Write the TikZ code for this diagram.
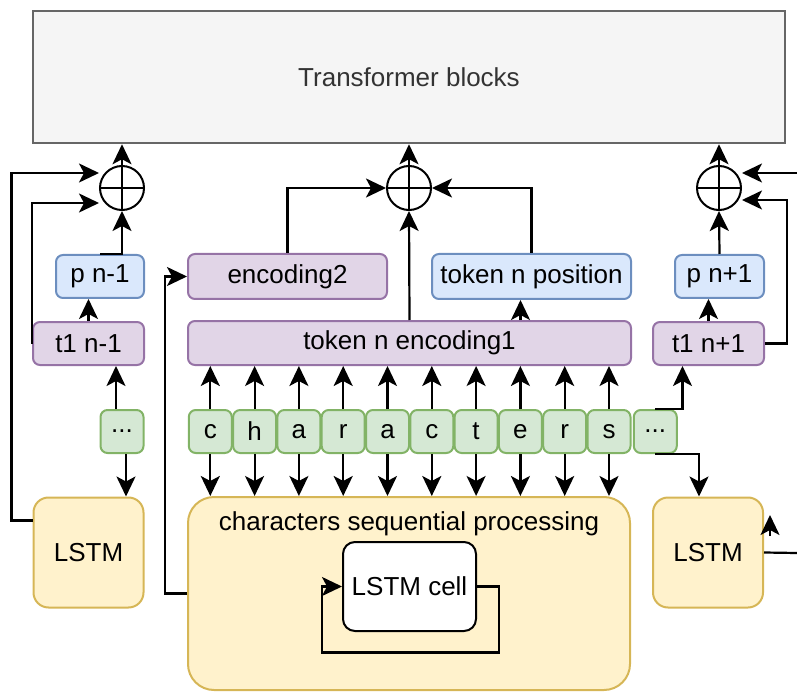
\documentclass[tikz,border=0pt]{standalone}
\usepackage{fontspec}
\setmainfont{Liberation Sans}
\usetikzlibrary{arrows.meta,positioning}
\definecolor{encfill}{HTML}{E1D5E7}
\definecolor{encdraw}{HTML}{9673A6}
\definecolor{posfill}{HTML}{DAE8FC}
\definecolor{posdraw}{HTML}{6C8EBF}
\definecolor{chrfill}{HTML}{D5E8D4}
\definecolor{chrdraw}{HTML}{82B366}
\definecolor{rnnfill}{HTML}{FFF2CC}
\definecolor{rnndraw}{HTML}{D6B656}
\definecolor{tffill}{HTML}{F5F5F5}
\definecolor{tfdraw}{HTML}{666666}

\begin{document}
\begin{tikzpicture}[
  x=1pt, y=-1pt,
  font=\fontsize{26pt}{30pt}\selectfont,
  box/.style={draw, line width=2pt, rounded corners=7pt, inner sep=0pt, minimum height=43pt},
  encbox/.style={box, fill=encfill, draw=encdraw},
  posbox/.style={box, fill=posfill, draw=posdraw},
  chr/.style={box, fill=chrfill, draw=chrdraw, minimum width=43pt},
  rnn/.style={box, fill=rnnfill, draw=rnndraw, rounded corners=15pt, minimum width=110pt, minimum height=110pt},
  sumnode/.style={draw, circle, line width=2pt, minimum size=44pt, inner sep=0pt,
    path picture={\draw[line width=2pt] (path picture bounding box.north) -- (path picture bounding box.south)
      (path picture bounding box.west) -- (path picture bounding box.east);}},
  tip/.tip={Stealth[length=20pt,width=19pt,inset=5pt]},
  arr/.style={-tip, line width=2.2pt},
  conn/.style={line width=2.2pt}
]
\useasboundingbox (0,0) rectangle (797,692);

\node[draw=tfdraw, fill=tffill, line width=2.5pt, minimum width=752pt, minimum height=132pt, inner sep=0pt, text=black!80] (tf) at (409,77) {Transformer blocks};

\node[sumnode] (sumL) at (122,188) {};
\node[sumnode] (sumM) at (409,188) {};
\node[sumnode] (sumR) at (719,188) {};

\node[posbox, minimum width=88pt] (pL) at (100,276.5) {p n-1};
\node[encbox, minimum width=111pt] (t1L) at (88.5,343.5) {t1 n-1};
\node[encbox, minimum width=199pt, minimum height=45pt] (enc2) at (287.5,276.5) {encoding2};
\node[posbox, minimum width=199pt, minimum height=45pt] (tokpos) at (531.5,276.5) {token n position};
\node[encbox, minimum width=443pt, minimum height=44pt] (enc1) at (409.5,343) {token n encoding1};
\node[posbox, minimum width=89pt] (pR) at (719.5,276.5) {p n+1};
\node[encbox, minimum width=111pt] (t1R) at (708.5,343.5) {t1 n+1};

\node[chr] (dotsL) at (122,431.5) {...};
\foreach \ch [count=\i] in {c,h,a,r,a,c,t,e,r,s}
  \node[chr] (c\i) at ({166+44.3*\i},431.5) {\ch};
\node[chr, right=1.3pt of c10] (c11) {...};

\node[rnn] (lstmL) at (88.5,552.5) {LSTM};
\node[rnn, minimum width=442pt, minimum height=193pt, rounded corners=26pt,
  label={[anchor=north, yshift=-12pt]north:characters sequential processing}] (seq) at (409,593.5) {};
\node[box, fill=white, rounded corners=12pt, minimum width=133pt, minimum height=89pt] (cell) at (409.5,586.5) {LSTM cell};
\node[rnn] (lstmR) at (708,552.5) {LSTM};

\coordinate (inR) at (797,173);
\coordinate (outR) at (797,553);
\coordinate (tipR) at (770,536);

\draw[arr] (sumL.north) -- (sumL.north |- tf.south);
\draw[arr] (sumM.north) -- (sumM.north |- tf.south);
\draw[arr] (sumR.north) -- (sumR.north |- tf.south);

\draw[arr] (pL.north) -| (sumL.south);
\draw[arr] (t1L.north) -- (t1L.north |- pL.south);
\draw[arr] (t1L.west) |- ([yshift=-15pt]sumL.west);
\draw[arr] ([yshift=32pt]lstmL.west) -- ++(-21,0) |- ([yshift=15pt]sumL.west);
\draw[arr] ([xshift=-6pt]dotsL.north) -- ([xshift=-6pt]dotsL.north |- t1L.south);
\draw[arr] ([xshift=4pt]dotsL.south) -- ([xshift=4pt]dotsL.south |- lstmL.north);

\draw[arr] (enc2.north) |- (sumM.west);
\draw[arr] (tokpos.north) |- (sumM.east);
\draw[arr] (enc1.north) -- (sumM.south);
\draw[arr] ([xshift=-11pt]tokpos.south |- enc1.north) -- ([xshift=-11pt]tokpos.south);
\draw[arr] (seq.west) -- ++(-22,0) |- (enc2.west);

\foreach \i in {1,...,10} {
  \draw[arr] (c\i.north) -- (c\i.north |- enc1.south);
  \draw[arr] (c\i.south) -- (c\i.south |- seq.north);
}
\draw[arr] (c11.north) -| ([xshift=-26pt]t1R.south);
\draw[arr] (c11.south) -| ([xshift=-9pt]lstmR.north);

\draw[arr] (cell.east) -- ++(22,0) -- ++(0,66) -- ++(-177,0) -- ++(0,-66) -- (cell.west);

\draw[arr] (pR.north) -- (sumR.south);
\draw[arr] (t1R.north) -- (t1R.north |- pR.south);
\draw[arr] (t1R.east) -- ++(22,0) |- ([yshift=-12pt]sumR.east);
\draw[arr] (inR) -- ([yshift=15pt]sumR.east);
\draw[conn] (lstmR.east) -- (outR);
\draw[arr] (tipR) -- ++(0,-21);
\end{tikzpicture}
\end{document}
